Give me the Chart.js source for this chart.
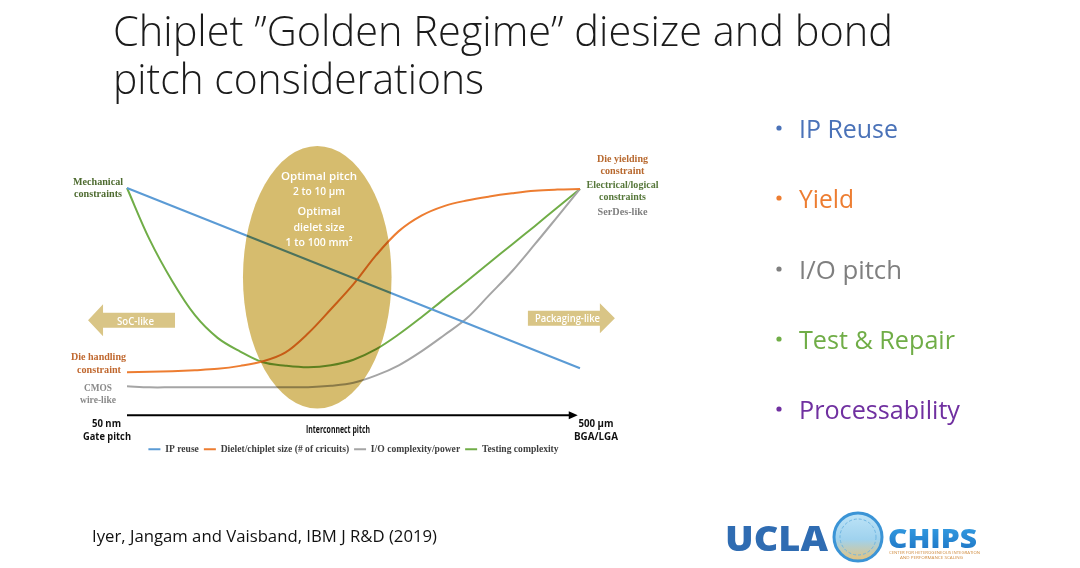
<!DOCTYPE html>
<html><head><meta charset="utf-8">
<script src="https://cdn.jsdelivr.net/npm/chart.js@4.4.0/dist/chart.umd.min.js"></script>
<style>
html,body{margin:0;padding:0;background:#fff;}
#page{position:relative;width:1080px;height:568px;overflow:hidden;background:#fff;}
#chartBox{position:absolute;left:60px;top:120px;width:585px;height:344px;}
#overlay{position:absolute;left:0;top:0;width:1080px;height:568px;pointer-events:none;}
</style></head><body>
<div id="page">
<div id="chartBox"><canvas id="c" width="585" height="344"></canvas></div>
<svg id="overlay" width="1080" height="568" xmlns="http://www.w3.org/2000/svg">
  <defs>
    <linearGradient id="emb" x1="0" y1="0" x2="0" y2="1">
      <stop offset="0" stop-color="#bfe4f7"/><stop offset="0.55" stop-color="#9fd2ee"/><stop offset="1" stop-color="#e6c27a"/>
    </linearGradient>
    <linearGradient id="chipsG" x1="0" y1="0" x2="0" y2="1">
      <stop offset="0" stop-color="#38a6ea"/><stop offset="1" stop-color="#1b6fc0"/>
    </linearGradient>
  </defs>
  <g font-family="'Open Sans', sans-serif" font-weight="300" fill="#1b1b1b" font-size="42">
    <text x="113" y="46" textLength="780" lengthAdjust="spacingAndGlyphs">Chiplet ”Golden Regime” diesize and bond</text>
    <text x="113" y="94" textLength="371" lengthAdjust="spacingAndGlyphs">pitch considerations</text>
  </g>
  <g font-family="'Open Sans', sans-serif" font-size="25">
    <circle cx="779" cy="128" r="2.6" fill="#4a72b8"/><text x="799" y="138" fill="#4a72b8" textLength="99" lengthAdjust="spacingAndGlyphs">IP Reuse</text>
    <circle cx="779" cy="198" r="2.6" fill="#ed7d31"/><text x="799" y="208" fill="#ed7d31" textLength="55" lengthAdjust="spacingAndGlyphs">Yield</text>
    <circle cx="779" cy="269" r="2.6" fill="#7f7f7f"/><text x="799" y="279" fill="#7f7f7f" textLength="103" lengthAdjust="spacingAndGlyphs">I/O pitch</text>
    <circle cx="779" cy="339" r="2.6" fill="#70ad47"/><text x="799" y="349" fill="#70ad47" textLength="156" lengthAdjust="spacingAndGlyphs">Test &amp; Repair</text>
    <circle cx="779" cy="409" r="2.6" fill="#7030a0"/><text x="799" y="419" fill="#7030a0" textLength="161" lengthAdjust="spacingAndGlyphs">Processability</text>
  </g>
  <text x="92" y="542" font-family="'Open Sans', sans-serif" font-size="16.5" fill="#111" textLength="345" lengthAdjust="spacingAndGlyphs">Iyer, Jangam and Vaisband, IBM J R&amp;D (2019)</text>
  <g font-family="'Liberation Serif', serif" font-weight="bold" font-size="10.5" text-anchor="middle">
    <text x="98" y="185.2" fill="#4e6b30" textLength="50" lengthAdjust="spacingAndGlyphs">Mechanical</text>
    <text x="98" y="196.8" fill="#4e6b30" textLength="48" lengthAdjust="spacingAndGlyphs">constraints</text>
    <text x="622.5" y="161.8" fill="#b8692f" textLength="51" lengthAdjust="spacingAndGlyphs">Die yielding</text>
    <text x="622.5" y="174.2" fill="#b8692f" textLength="44" lengthAdjust="spacingAndGlyphs">constraint</text>
    <text x="622.5" y="187.5" fill="#56773a" textLength="72" lengthAdjust="spacingAndGlyphs">Electrical/logical</text>
    <text x="622.5" y="200.2" fill="#56773a" textLength="47" lengthAdjust="spacingAndGlyphs">constraints</text>
    <text x="622.5" y="214.5" fill="#7f7f7f" textLength="50" lengthAdjust="spacingAndGlyphs">SerDes-like</text>
    <text x="98.5" y="360.2" fill="#c0682f" textLength="55" lengthAdjust="spacingAndGlyphs">Die handling</text>
    <text x="99" y="372.8" fill="#c0682f" textLength="44" lengthAdjust="spacingAndGlyphs">constraint</text>
    <text x="98" y="390.8" fill="#8a8a8a" textLength="28" lengthAdjust="spacingAndGlyphs">CMOS</text>
    <text x="98" y="402.8" fill="#8a8a8a" textLength="36" lengthAdjust="spacingAndGlyphs">wire-like</text>
  </g>
  <g font-family="'Open Sans', sans-serif" font-weight="bold" font-size="10" text-anchor="middle" fill="#111">
    <text x="106.5" y="427" textLength="29" lengthAdjust="spacingAndGlyphs">50 nm</text>
    <text x="107" y="439.5" textLength="48" lengthAdjust="spacingAndGlyphs">Gate pitch</text>
    <text x="338" y="432.5" font-size="10.5" textLength="64" lengthAdjust="spacingAndGlyphs">Interconnect pitch</text>
    <text x="596" y="427" textLength="35" lengthAdjust="spacingAndGlyphs">500 µm</text>
    <text x="596" y="440" textLength="44" lengthAdjust="spacingAndGlyphs">BGA/LGA</text>
  </g>
  <g font-family="'Open Sans', sans-serif" font-weight="600" font-size="11.5" text-anchor="middle" fill="#ffffff">
    <text x="319" y="180" textLength="76" lengthAdjust="spacingAndGlyphs">Optimal pitch</text>
    <text x="319" y="194.5" textLength="52" lengthAdjust="spacingAndGlyphs">2 to 10 µm</text>
    <text x="319" y="215" textLength="43" lengthAdjust="spacingAndGlyphs">Optimal</text>
    <text x="319" y="230.5" textLength="51" lengthAdjust="spacingAndGlyphs">dielet size</text>
    <text x="319" y="245.5" textLength="67" lengthAdjust="spacingAndGlyphs">1 to 100 mm²</text>
    <text x="135.5" y="324.5" font-size="10.5" textLength="37" lengthAdjust="spacingAndGlyphs">SoC-like</text>
    <text x="567.5" y="322" font-size="10.5" textLength="65" lengthAdjust="spacingAndGlyphs">Packaging-like</text>
  </g>
  <g>
    <text x="725" y="551" font-family="'Open Sans', sans-serif" font-weight="800" font-size="35" fill="#2f6cb2" textLength="103" lengthAdjust="spacingAndGlyphs">UCLA</text>
    <circle cx="858" cy="537" r="24" fill="url(#emb)" stroke="#3b94d6" stroke-width="3"/>
    <circle cx="858" cy="537" r="18" fill="none" stroke="#6fb6e2" stroke-width="1" stroke-dasharray="3 2"/>
    <text x="888" y="548" font-family="'Open Sans', sans-serif" font-weight="800" font-size="27" fill="url(#chipsG)" textLength="89" lengthAdjust="spacingAndGlyphs">CHIPS</text>
    <text x="889" y="553.5" font-family="'Open Sans', sans-serif" font-size="4" fill="#cf8a3c" textLength="91" lengthAdjust="spacingAndGlyphs">CENTER FOR HETEROGENEOUS INTEGRATION</text>
    <text x="900" y="558.5" font-family="'Open Sans', sans-serif" font-size="4" fill="#cf8a3c" textLength="63" lengthAdjust="spacingAndGlyphs">AND PERFORMANCE SCALING</text>
  </g>
</svg>
</div>
<script>
// ---- data (x = relative interconnect pitch position 0..100, y = relative level 0..100) ----
const xPositions = [0,5,10,15,20,25,30,35,40,45,50,55,60,65,70,75,80,85,90,95,100];
const ipReuseX = [0, 100];
const ipReuse = [100, 9.3];
const dieletSize = [7.3,7.5,7.8,8.3,9.0,10.5,12.8,17.3,26.9,39.0,51.6,66.2,78.3,86.1,90.9,93.7,95.7,97.3,98.6,99.2,99.5];
const ioComplexity = [0.2,-0.3,-0.3,-0.3,-0.3,-0.3,-0.3,-0.3,-0.2,0.5,2.0,5.7,10.8,17.8,25.9,34.4,46.2,58.1,71.6,85.5,99.5];
const testingComplexity = [100,74.0,53.1,36.0,24.6,17.7,12.3,10.6,9.8,10.8,13.6,18.9,26.4,35.0,44.1,53.1,62.4,71.6,80.8,90.2,99.5];
const seriesNames = ['IP reuse','Dielet/chiplet size (# of cricuits)','I/O complexity/power','Testing complexity'];
const seriesColors = ['#5b9bd5','#ed7d31','#a5a5a5','#70ad47'];
// annotation regions in data units
const optimalRegion = {xMin:25.6, xMax:58.4, yMin:-10.9, yMax:121.1};
const socArrow = {tip:-8.6, tail:10.6, y:33.5};
const packagingArrow = {tail:88.5, tip:107.7, y:34.5};
const pitchAxis = {from:0, to:99.5, y:-14.4};

const pts = (xs, ys) => xs.map((x,i)=>({x, y:ys[i]}));

const decor = {
  id:'decor',
  beforeDatasetsDraw(chart){
    const {ctx, scales:{x,y}} = chart;
    ctx.save();
    ctx.fillStyle = 'rgb(217,197,134)';
    {
      const tip = x.getPixelForValue(socArrow.tip), tail = x.getPixelForValue(socArrow.tail), cy = y.getPixelForValue(socArrow.y);
      const hl = 15, bh = 7.5, hh = 16;
      ctx.beginPath();
      ctx.moveTo(tip, cy); ctx.lineTo(tip+hl, cy-hh); ctx.lineTo(tip+hl, cy-bh); ctx.lineTo(tail, cy-bh);
      ctx.lineTo(tail, cy+bh); ctx.lineTo(tip+hl, cy+bh); ctx.lineTo(tip+hl, cy+hh); ctx.closePath(); ctx.fill();
    }
    {
      const tip = x.getPixelForValue(packagingArrow.tip), tail = x.getPixelForValue(packagingArrow.tail), cy = y.getPixelForValue(packagingArrow.y);
      const hl = 15, bh = 7.5, hh = 15;
      ctx.beginPath();
      ctx.moveTo(tip, cy); ctx.lineTo(tip-hl, cy-hh); ctx.lineTo(tip-hl, cy-bh); ctx.lineTo(tail, cy-bh);
      ctx.lineTo(tail, cy+bh); ctx.lineTo(tip-hl, cy+bh); ctx.lineTo(tip-hl, cy+hh); ctx.closePath(); ctx.fill();
    }
    {
      const x0 = x.getPixelForValue(pitchAxis.from), x1 = x.getPixelForValue(pitchAxis.to), ay = y.getPixelForValue(pitchAxis.y);
      ctx.strokeStyle = '#000'; ctx.lineWidth = 2;
      ctx.beginPath(); ctx.moveTo(x0, ay); ctx.lineTo(x1-6, ay); ctx.stroke();
      ctx.fillStyle = '#000';
      ctx.beginPath(); ctx.moveTo(x1, ay); ctx.lineTo(x1-9, ay-4); ctx.lineTo(x1-9, ay+4); ctx.closePath(); ctx.fill();
    }
    ctx.restore();
  },
  afterDatasetsDraw(chart){
    const {ctx, scales:{x,y}} = chart;
    const l = x.getPixelForValue(optimalRegion.xMin), r = x.getPixelForValue(optimalRegion.xMax);
    const t = y.getPixelForValue(optimalRegion.yMax), b = y.getPixelForValue(optimalRegion.yMin);
    ctx.save();
    ctx.globalCompositeOperation = 'multiply';
    ctx.fillStyle = 'rgb(214,188,110)';
    ctx.beginPath();
    ctx.ellipse((l+r)/2, (t+b)/2, (r-l)/2, (b-t)/2, 0, 0, Math.PI*2);
    ctx.fill();
    ctx.restore();
  }
};

const mk = (i, data, smooth) => ({
  label: seriesNames[i], data,
  borderColor: seriesColors[i], backgroundColor: seriesColors[i],
  borderWidth: 2, pointRadius: 0, pointHoverRadius: 0,
  tension: smooth ? 0.35 : 0,
  clip: false
});

new Chart(document.getElementById('c'), {
  type: 'line',
  data: {
    datasets: [
      mk(0, pts(ipReuseX, ipReuse), false),
      mk(1, pts(xPositions, dieletSize), true),
      mk(2, pts(xPositions, ioComplexity), true),
      mk(3, pts(xPositions, testingComplexity), true)
    ]
  },
  options: {
    responsive: false, animation: false, devicePixelRatio: 1,
    layout: { padding: { left: 67, right: 65, top: 68, bottom: 0 } },
    scales: {
      x: { type: 'linear', min: 0, max: 100, display: false },
      y: { type: 'linear', min: -26.5, max: 100, display: false }
    },
    plugins: {
      tooltip: { enabled: false },
      legend: {
        position: 'bottom',
        labels: {
          boxWidth: 12, boxHeight: 2, padding: 5, color: '#404040',
          font: { family: "'Liberation Serif', serif", size: 9.6, weight: 'bold' },
          generateLabels: (chart) => Chart.defaults.plugins.legend.labels.generateLabels(chart).map(l => Object.assign(l, {lineWidth: 0}))
        }
      }
    }
  },
  plugins: [decor]
});
</script>
</body></html>
